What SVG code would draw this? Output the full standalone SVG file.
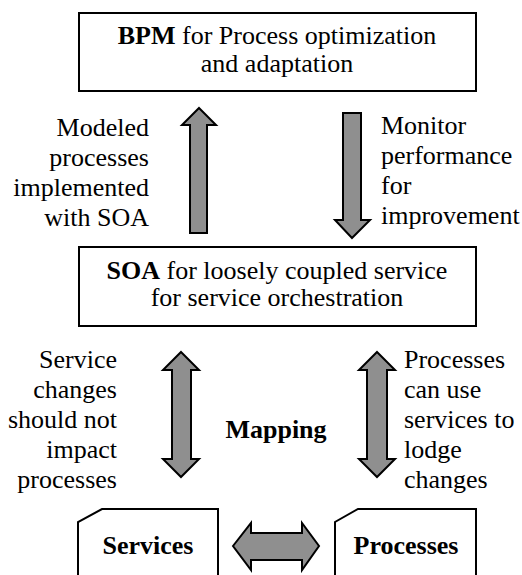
<svg xmlns="http://www.w3.org/2000/svg" width="522" height="575" viewBox="0 0 522 575">
<style>
text{font-family:'Liberation Serif','Times New Roman',serif;font-size:26px;fill:#000}
.b{font-weight:bold}
.box{fill:#fff;stroke:#000;stroke-width:2}
.arr{fill:#8f8f8f;stroke:#000;stroke-width:2;stroke-linejoin:miter}
</style>
<rect width="522" height="575" fill="#fff"/>
<g id="bpm">
<rect class="box" x="79" y="13" width="397" height="78"/>
<text x="277" y="44" text-anchor="middle"><tspan class="b">BPM</tspan> for Process optimization</text>
<text x="277" y="72" text-anchor="middle">and adaptation</text>
</g>
<g id="soa">
<rect class="box" x="79" y="247" width="397" height="79"/>
<text x="277" y="279" text-anchor="middle"><tspan class="b">SOA</tspan> for loosely coupled service</text>
<text x="277" y="306" text-anchor="middle">for service orchestration</text>
</g>
<g id="services">
<path class="box" d="M78,580 L78,522 L102,509 L218,509 L218,580"/>
<text class="b" x="148" y="554" text-anchor="middle">Services</text>
</g>
<g id="processes">
<path class="box" d="M335,580 L335,522 L358,509 L476,509 L476,580"/>
<text class="b" x="406" y="554" text-anchor="middle">Processes</text>
</g>
<g id="connectors">
<path class="arr" d="M199,108 L216,125 L207,125 L207,233 L190,233 L190,125 L182,125 Z"/>
<path class="arr" d="M352,238 L370,220 L361,220 L361,113 L343,113 L343,220 L335,220 Z"/>
<path class="arr" d="M181,352 L199,370 L191,370 L191,459 L199,459 L181,477 L163,459 L172,459 L172,370 L163,370 Z"/>
<path class="arr" d="M377,352 L395,370 L387,370 L387,459 L395,459 L377,477 L359,459 L367,459 L367,370 L359,370 Z"/>
<path class="arr" d="M233,546 L251,523 L251,533 L302,533 L302,523 L319,546 L302,570 L302,560 L251,560 L251,570 Z"/>
</g>
<g id="labels">
<text x="149" y="136" text-anchor="end">Modeled</text>
<text x="149" y="166" text-anchor="end">processes</text>
<text x="149" y="196" text-anchor="end">implemented</text>
<text x="149" y="226" text-anchor="end">with SOA</text>
<text x="381" y="134">Monitor</text>
<text x="381" y="164">performance</text>
<text x="381" y="194">for</text>
<text x="381" y="224">improvement</text>
<text x="117" y="368" text-anchor="end">Service</text>
<text x="117" y="398" text-anchor="end">changes</text>
<text x="117" y="428" text-anchor="end">should not</text>
<text x="117" y="458" text-anchor="end">impact</text>
<text x="117" y="488" text-anchor="end">processes</text>
<text x="404" y="368">Processes</text>
<text x="404" y="398">can use</text>
<text x="404" y="428">services to</text>
<text x="404" y="458">lodge</text>
<text x="404" y="488">changes</text>
<text class="b" x="276" y="438" text-anchor="middle">Mapping</text>
</g>
</svg>
